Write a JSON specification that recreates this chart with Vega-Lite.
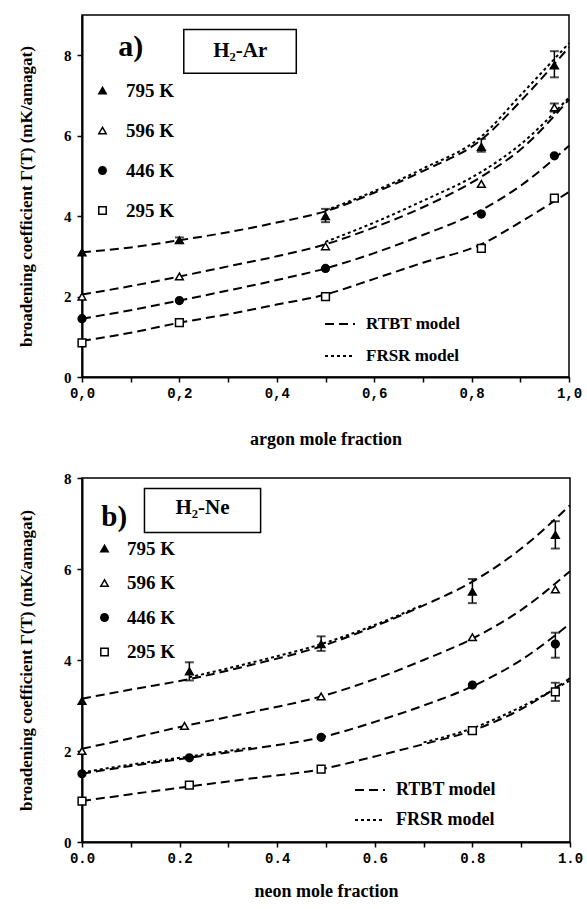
{
  "$schema": "https://vega.github.io/schema/vega-lite/v6.json",
  "background": "white",
  "padding": {"left": 16, "top": 14, "right": 5, "bottom": 5},
  "spacing": 21,
  "datasets": {
    "ptsA": [
      {"x": 0, "y": 3.1, "temp": "795 K"}, {"x": 0.2, "y": 3.4, "temp": "795 K", "lo": 3.33, "hi": 3.47}, {"x": 0.5, "y": 4.0, "temp": "795 K", "lo": 3.85, "hi": 4.18}, {"x": 0.82, "y": 5.72, "temp": "795 K", "lo": 5.6, "hi": 5.92}, {"x": 0.97, "y": 7.75, "temp": "795 K", "lo": 7.45, "hi": 8.1},
      {"x": 0, "y": 2.0, "temp": "596 K"}, {"x": 0.2, "y": 2.5, "temp": "596 K"}, {"x": 0.5, "y": 3.25, "temp": "596 K"}, {"x": 0.82, "y": 4.8, "temp": "596 K"}, {"x": 0.97, "y": 6.7, "temp": "596 K", "lo": 6.6, "hi": 6.8},
      {"x": 0, "y": 1.45, "temp": "446 K"}, {"x": 0.2, "y": 1.9, "temp": "446 K"}, {"x": 0.5, "y": 2.7, "temp": "446 K"}, {"x": 0.82, "y": 4.05, "temp": "446 K"}, {"x": 0.97, "y": 5.5, "temp": "446 K"},
      {"x": 0, "y": 0.85, "temp": "295 K"}, {"x": 0.2, "y": 1.35, "temp": "295 K"}, {"x": 0.5, "y": 2.0, "temp": "295 K"}, {"x": 0.82, "y": 3.2, "temp": "295 K"}, {"x": 0.97, "y": 4.45, "temp": "295 K"}
    ],
    "ptsB": [
      {"x": 0, "y": 3.1, "temp": "795 K"}, {"x": 0.22, "y": 3.75, "temp": "795 K", "lo": 3.55, "hi": 3.95}, {"x": 0.49, "y": 4.35, "temp": "795 K", "lo": 4.2, "hi": 4.52}, {"x": 0.8, "y": 5.5, "temp": "795 K", "lo": 5.25, "hi": 5.78}, {"x": 0.97, "y": 6.75, "temp": "795 K", "lo": 6.45, "hi": 7.05},
      {"x": 0, "y": 2.0, "temp": "596 K"}, {"x": 0.21, "y": 2.55, "temp": "596 K"}, {"x": 0.49, "y": 3.2, "temp": "596 K"}, {"x": 0.8, "y": 4.5, "temp": "596 K"}, {"x": 0.97, "y": 5.55, "temp": "596 K"},
      {"x": 0, "y": 1.5, "temp": "446 K"}, {"x": 0.22, "y": 1.85, "temp": "446 K"}, {"x": 0.49, "y": 2.3, "temp": "446 K"}, {"x": 0.8, "y": 3.45, "temp": "446 K"}, {"x": 0.97, "y": 4.35, "temp": "446 K", "lo": 4.05, "hi": 4.6},
      {"x": 0, "y": 0.9, "temp": "295 K"}, {"x": 0.22, "y": 1.25, "temp": "295 K"}, {"x": 0.49, "y": 1.6, "temp": "295 K"}, {"x": 0.8, "y": 2.45, "temp": "295 K"}, {"x": 0.97, "y": 3.3, "temp": "295 K", "lo": 3.1, "hi": 3.5}
    ],
    "curvesA": [
      {"model": "RTBT model", "temp": "795 K", "x": 0, "y": 3.1}, {"model": "RTBT model", "temp": "795 K", "x": 0.1, "y": 3.22}, {"model": "RTBT model", "temp": "795 K", "x": 0.2, "y": 3.4}, {"model": "RTBT model", "temp": "795 K", "x": 0.3, "y": 3.6}, {"model": "RTBT model", "temp": "795 K", "x": 0.4, "y": 3.84}, {"model": "RTBT model", "temp": "795 K", "x": 0.5, "y": 4.12}, {"model": "RTBT model", "temp": "795 K", "x": 0.6, "y": 4.58}, {"model": "RTBT model", "temp": "795 K", "x": 0.7, "y": 5.12}, {"model": "RTBT model", "temp": "795 K", "x": 0.82, "y": 5.9}, {"model": "RTBT model", "temp": "795 K", "x": 0.9, "y": 6.85}, {"model": "RTBT model", "temp": "795 K", "x": 1.0, "y": 8.2},
      {"model": "FRSR model", "temp": "795 K", "x": 0.5, "y": 4.14}, {"model": "FRSR model", "temp": "795 K", "x": 0.6, "y": 4.62}, {"model": "FRSR model", "temp": "795 K", "x": 0.7, "y": 5.18}, {"model": "FRSR model", "temp": "795 K", "x": 0.82, "y": 5.98}, {"model": "FRSR model", "temp": "795 K", "x": 0.9, "y": 7.0}, {"model": "FRSR model", "temp": "795 K", "x": 1.0, "y": 8.3},
      {"model": "RTBT model", "temp": "596 K", "x": 0, "y": 2.05}, {"model": "RTBT model", "temp": "596 K", "x": 0.1, "y": 2.26}, {"model": "RTBT model", "temp": "596 K", "x": 0.2, "y": 2.5}, {"model": "RTBT model", "temp": "596 K", "x": 0.3, "y": 2.75}, {"model": "RTBT model", "temp": "596 K", "x": 0.4, "y": 3.0}, {"model": "RTBT model", "temp": "596 K", "x": 0.5, "y": 3.3}, {"model": "RTBT model", "temp": "596 K", "x": 0.6, "y": 3.72}, {"model": "RTBT model", "temp": "596 K", "x": 0.7, "y": 4.22}, {"model": "RTBT model", "temp": "596 K", "x": 0.82, "y": 4.98}, {"model": "RTBT model", "temp": "596 K", "x": 0.9, "y": 5.65}, {"model": "RTBT model", "temp": "596 K", "x": 1.0, "y": 6.9},
      {"model": "FRSR model", "temp": "596 K", "x": 0.5, "y": 3.36}, {"model": "FRSR model", "temp": "596 K", "x": 0.6, "y": 3.84}, {"model": "FRSR model", "temp": "596 K", "x": 0.7, "y": 4.38}, {"model": "FRSR model", "temp": "596 K", "x": 0.82, "y": 5.1}, {"model": "FRSR model", "temp": "596 K", "x": 0.9, "y": 5.78}, {"model": "FRSR model", "temp": "596 K", "x": 1.0, "y": 6.95},
      {"model": "RTBT model", "temp": "446 K", "x": 0, "y": 1.45}, {"model": "RTBT model", "temp": "446 K", "x": 0.1, "y": 1.66}, {"model": "RTBT model", "temp": "446 K", "x": 0.2, "y": 1.9}, {"model": "RTBT model", "temp": "446 K", "x": 0.3, "y": 2.15}, {"model": "RTBT model", "temp": "446 K", "x": 0.4, "y": 2.41}, {"model": "RTBT model", "temp": "446 K", "x": 0.5, "y": 2.7}, {"model": "RTBT model", "temp": "446 K", "x": 0.6, "y": 3.08}, {"model": "RTBT model", "temp": "446 K", "x": 0.7, "y": 3.53}, {"model": "RTBT model", "temp": "446 K", "x": 0.82, "y": 4.15}, {"model": "RTBT model", "temp": "446 K", "x": 0.9, "y": 4.75}, {"model": "RTBT model", "temp": "446 K", "x": 1.0, "y": 5.75},
      {"model": "RTBT model", "temp": "295 K", "x": 0, "y": 0.9}, {"model": "RTBT model", "temp": "295 K", "x": 0.1, "y": 1.1}, {"model": "RTBT model", "temp": "295 K", "x": 0.2, "y": 1.35}, {"model": "RTBT model", "temp": "295 K", "x": 0.3, "y": 1.56}, {"model": "RTBT model", "temp": "295 K", "x": 0.4, "y": 1.8}, {"model": "RTBT model", "temp": "295 K", "x": 0.5, "y": 2.05}, {"model": "RTBT model", "temp": "295 K", "x": 0.6, "y": 2.44}, {"model": "RTBT model", "temp": "295 K", "x": 0.7, "y": 2.84}, {"model": "RTBT model", "temp": "295 K", "x": 0.82, "y": 3.3}, {"model": "RTBT model", "temp": "295 K", "x": 0.9, "y": 3.85}, {"model": "RTBT model", "temp": "295 K", "x": 1.0, "y": 4.6}
    ],
    "curvesB": [
      {"model": "RTBT model", "temp": "795 K", "x": 0, "y": 3.15}, {"model": "RTBT model", "temp": "795 K", "x": 0.1, "y": 3.35}, {"model": "RTBT model", "temp": "795 K", "x": 0.22, "y": 3.58}, {"model": "RTBT model", "temp": "795 K", "x": 0.35, "y": 3.9}, {"model": "RTBT model", "temp": "795 K", "x": 0.49, "y": 4.3}, {"model": "RTBT model", "temp": "795 K", "x": 0.6, "y": 4.74}, {"model": "RTBT model", "temp": "795 K", "x": 0.7, "y": 5.2}, {"model": "RTBT model", "temp": "795 K", "x": 0.8, "y": 5.72}, {"model": "RTBT model", "temp": "795 K", "x": 0.9, "y": 6.45}, {"model": "RTBT model", "temp": "795 K", "x": 1.0, "y": 7.4},
      {"model": "FRSR model", "temp": "795 K", "x": 0.22, "y": 3.62}, {"model": "FRSR model", "temp": "795 K", "x": 0.35, "y": 3.95}, {"model": "FRSR model", "temp": "795 K", "x": 0.49, "y": 4.35}, {"model": "FRSR model", "temp": "795 K", "x": 0.6, "y": 4.77}, {"model": "FRSR model", "temp": "795 K", "x": 0.7, "y": 5.22},
      {"model": "RTBT model", "temp": "596 K", "x": 0, "y": 2.05}, {"model": "RTBT model", "temp": "596 K", "x": 0.1, "y": 2.28}, {"model": "RTBT model", "temp": "596 K", "x": 0.21, "y": 2.55}, {"model": "RTBT model", "temp": "596 K", "x": 0.35, "y": 2.86}, {"model": "RTBT model", "temp": "596 K", "x": 0.49, "y": 3.2}, {"model": "RTBT model", "temp": "596 K", "x": 0.6, "y": 3.58}, {"model": "RTBT model", "temp": "596 K", "x": 0.7, "y": 4.0}, {"model": "RTBT model", "temp": "596 K", "x": 0.8, "y": 4.47}, {"model": "RTBT model", "temp": "596 K", "x": 0.9, "y": 5.1}, {"model": "RTBT model", "temp": "596 K", "x": 1.0, "y": 5.95},
      {"model": "RTBT model", "temp": "446 K", "x": 0, "y": 1.5}, {"model": "RTBT model", "temp": "446 K", "x": 0.1, "y": 1.67}, {"model": "RTBT model", "temp": "446 K", "x": 0.22, "y": 1.85}, {"model": "RTBT model", "temp": "446 K", "x": 0.35, "y": 2.05}, {"model": "RTBT model", "temp": "446 K", "x": 0.49, "y": 2.3}, {"model": "RTBT model", "temp": "446 K", "x": 0.6, "y": 2.64}, {"model": "RTBT model", "temp": "446 K", "x": 0.7, "y": 3.0}, {"model": "RTBT model", "temp": "446 K", "x": 0.8, "y": 3.42}, {"model": "RTBT model", "temp": "446 K", "x": 0.9, "y": 4.0}, {"model": "RTBT model", "temp": "446 K", "x": 1.0, "y": 4.8},
      {"model": "FRSR model", "temp": "446 K", "x": 0, "y": 1.53}, {"model": "FRSR model", "temp": "446 K", "x": 0.1, "y": 1.7}, {"model": "FRSR model", "temp": "446 K", "x": 0.22, "y": 1.88}, {"model": "FRSR model", "temp": "446 K", "x": 0.35, "y": 2.08},
      {"model": "RTBT model", "temp": "295 K", "x": 0, "y": 0.9}, {"model": "RTBT model", "temp": "295 K", "x": 0.1, "y": 1.05}, {"model": "RTBT model", "temp": "295 K", "x": 0.22, "y": 1.22}, {"model": "RTBT model", "temp": "295 K", "x": 0.35, "y": 1.4}, {"model": "RTBT model", "temp": "295 K", "x": 0.49, "y": 1.6}, {"model": "RTBT model", "temp": "295 K", "x": 0.6, "y": 1.88}, {"model": "RTBT model", "temp": "295 K", "x": 0.7, "y": 2.15}, {"model": "RTBT model", "temp": "295 K", "x": 0.8, "y": 2.45}, {"model": "RTBT model", "temp": "295 K", "x": 0.9, "y": 2.92}, {"model": "RTBT model", "temp": "295 K", "x": 1.0, "y": 3.6},
      {"model": "FRSR model", "temp": "295 K", "x": 0.7, "y": 2.19}, {"model": "FRSR model", "temp": "295 K", "x": 0.8, "y": 2.5}, {"model": "FRSR model", "temp": "295 K", "x": 0.9, "y": 2.97}, {"model": "FRSR model", "temp": "295 K", "x": 1.0, "y": 3.55}
    ],
    "annA": [
      {"label": "a)", "x": 0.1, "y": 8.2, "kind": "tag"},
      {"label": "H₂-Ar", "x": 0.325, "y": 8.1, "kind": "box", "x1": 0.209, "x2": 0.44, "y1": 7.55, "y2": 8.64}
    ],
    "annB": [
      {"label": "b)", "x": 0.066, "y": 7.15, "kind": "tag"},
      {"label": "H₂-Ne", "x": 0.247, "y": 7.33, "kind": "box", "x1": 0.128, "x2": 0.366, "y1": 6.8, "y2": 7.77}
    ]
  },
  "vconcat": [
    {
      "width": 487,
      "height": 362,
      "layer": [
        {
          "data": {"name": "annA"},
          "transform": [{"filter": "datum.kind == 'box'"}],
          "mark": {"type": "rect", "fill": "white", "stroke": "black", "strokeWidth": 1.5},
          "encoding": {"x": {"field": "x1", "type": "quantitative"}, "x2": {"field": "x2"}, "y": {"field": "y1", "type": "quantitative"}, "y2": {"field": "y2"}}
        },
        {
          "data": {"name": "annA"},
          "transform": [{"filter": "datum.kind == 'box'"}],
          "mark": {"type": "text", "font": "Liberation Serif", "fontWeight": "bold", "fontSize": 21, "color": "black"},
          "encoding": {"x": {"field": "x", "type": "quantitative"}, "y": {"field": "y", "type": "quantitative"}, "text": {"field": "label"}}
        },
        {
          "data": {"name": "annA"},
          "transform": [{"filter": "datum.kind == 'tag'"}],
          "mark": {"type": "text", "font": "Liberation Serif", "fontWeight": "bold", "fontSize": 30, "color": "black"},
          "encoding": {"x": {"field": "x", "type": "quantitative"}, "y": {"field": "y", "type": "quantitative"}, "text": {"field": "label"}}
        },
        {
          "data": {"name": "curvesA"},
          "mark": {"type": "line", "color": "black", "strokeWidth": 2, "interpolate": "monotone"},
          "encoding": {
            "x": {"field": "x", "type": "quantitative", "scale": {"domain": [0, 1], "nice": false},
              "axis": {"values": [0, 0.1, 0.2, 0.3, 0.4, 0.5, 0.6, 0.7, 0.8, 0.9, 1.0], "labelExpr": "round(datum.value*10)%2==0 ? replace(format(datum.value,'.1f'),'.',',') : ''", "title": "argon mole fraction", "titlePadding": 30}},
            "y": {"field": "y", "type": "quantitative", "scale": {"domain": [0, 9], "nice": false},
              "axis": {"values": [0, 2, 4, 6, 8], "title": "broadening coefficient Γ(T) (mK/amagat)"}},
            "detail": {"field": "temp"},
            "strokeDash": {"field": "model", "type": "nominal",
              "scale": {"domain": ["RTBT model", "FRSR model"], "range": [[9, 5], [3, 3]]},
              "legend": {"orient": "none", "legendX": 242, "legendY": 293, "title": null, "symbolType": "stroke", "symbolSize": 900, "symbolStrokeWidth": 2, "symbolStrokeColor": "black", "labelFont": "Liberation Serif", "labelFontWeight": "bold", "labelFontSize": 17, "rowPadding": 8, "labelOffset": 10}}
          }
        },
        {
          "data": {"name": "ptsA"},
          "transform": [{"filter": "isValid(datum.lo)"}],
          "mark": {"type": "rule", "color": "black", "strokeWidth": 1.5},
          "encoding": {"x": {"field": "x", "type": "quantitative"}, "y": {"field": "lo", "type": "quantitative"}, "y2": {"field": "hi"}}
        },
        {
          "data": {"name": "ptsA"},
          "transform": [{"filter": "isValid(datum.lo)"}, {"fold": ["lo", "hi"], "as": ["end", "yy"]}],
          "mark": {"type": "tick", "color": "black", "orient": "horizontal", "size": 9, "thickness": 2},
          "encoding": {"x": {"field": "x", "type": "quantitative"}, "y": {"field": "yy", "type": "quantitative"}}
        },
        {
          "data": {"name": "ptsA"},
          "mark": {"type": "point", "filled": true, "strokeWidth": 1.5, "opacity": 1, "size": 60},
          "encoding": {
            "x": {"field": "x", "type": "quantitative"},
            "y": {"field": "y", "type": "quantitative"},
            "shape": {"field": "temp", "type": "nominal", "scale": {"domain": ["795 K", "596 K", "446 K", "295 K"], "range": ["triangle-up", "triangle-up", "circle", "square"]},
              "legend": {"orient": "none", "legendX": 11, "legendY": 66, "title": null, "labelFont": "Liberation Serif", "labelFontWeight": "bold", "labelFontSize": 19, "rowPadding": 20, "labelOffset": 14, "symbolSize": 55, "symbolStrokeWidth": 1.5}},
            "fill": {"field": "temp", "type": "nominal", "scale": {"domain": ["795 K", "596 K", "446 K", "295 K"], "range": ["black", "white", "black", "white"]},
              "legend": {"orient": "none", "legendX": 11, "legendY": 66, "title": null, "labelFont": "Liberation Serif", "labelFontWeight": "bold", "labelFontSize": 19, "rowPadding": 20, "labelOffset": 14, "symbolSize": 55, "symbolStrokeWidth": 1.5}},
            "stroke": {"field": "temp", "type": "nominal", "scale": {"domain": ["795 K", "596 K", "446 K", "295 K"], "range": ["black", "black", "black", "black"]},
              "legend": {"orient": "none", "legendX": 11, "legendY": 66, "title": null, "labelFont": "Liberation Serif", "labelFontWeight": "bold", "labelFontSize": 19, "rowPadding": 20, "labelOffset": 14, "symbolSize": 55, "symbolStrokeWidth": 1.5}}
          }
        }
      ]
    },
    {
      "width": 488,
      "height": 364,
      "layer": [
        {
          "data": {"name": "annB"},
          "transform": [{"filter": "datum.kind == 'box'"}],
          "mark": {"type": "rect", "fill": "white", "stroke": "black", "strokeWidth": 1.5},
          "encoding": {"x": {"field": "x1", "type": "quantitative"}, "x2": {"field": "x2"}, "y": {"field": "y1", "type": "quantitative"}, "y2": {"field": "y2"}}
        },
        {
          "data": {"name": "annB"},
          "transform": [{"filter": "datum.kind == 'box'"}],
          "mark": {"type": "text", "font": "Liberation Serif", "fontWeight": "bold", "fontSize": 21, "color": "black"},
          "encoding": {"x": {"field": "x", "type": "quantitative"}, "y": {"field": "y", "type": "quantitative"}, "text": {"field": "label"}}
        },
        {
          "data": {"name": "annB"},
          "transform": [{"filter": "datum.kind == 'tag'"}],
          "mark": {"type": "text", "font": "Liberation Serif", "fontWeight": "bold", "fontSize": 29, "color": "black"},
          "encoding": {"x": {"field": "x", "type": "quantitative"}, "y": {"field": "y", "type": "quantitative"}, "text": {"field": "label"}}
        },
        {
          "data": {"name": "curvesB"},
          "mark": {"type": "line", "color": "black", "strokeWidth": 2, "interpolate": "monotone"},
          "encoding": {
            "x": {"field": "x", "type": "quantitative", "scale": {"domain": [0, 1], "nice": false},
              "axis": {"values": [0, 0.1, 0.2, 0.3, 0.4, 0.5, 0.6, 0.7, 0.8, 0.9, 1.0], "labelExpr": "round(datum.value*10)%2==0 ? format(datum.value,'.1f') : ''", "title": "neon mole fraction", "titlePadding": 17}},
            "y": {"field": "y", "type": "quantitative", "scale": {"domain": [0, 8], "nice": false},
              "axis": {"values": [0, 2, 4, 6, 8], "title": "broadening coefficient Γ(T) (mK/amagat)"}},
            "detail": {"field": "temp"},
            "strokeDash": {"field": "model", "type": "nominal",
              "scale": {"domain": ["RTBT model", "FRSR model"], "range": [[9, 5], [3, 3]]},
              "legend": {"orient": "none", "legendX": 272, "legendY": 296, "title": null, "symbolType": "stroke", "symbolSize": 900, "symbolStrokeWidth": 2, "symbolStrokeColor": "black", "labelFont": "Liberation Serif", "labelFontWeight": "bold", "labelFontSize": 18, "rowPadding": 5, "labelOffset": 10}}
          }
        },
        {
          "data": {"name": "ptsB"},
          "transform": [{"filter": "isValid(datum.lo)"}],
          "mark": {"type": "rule", "color": "black", "strokeWidth": 1.5},
          "encoding": {"x": {"field": "x", "type": "quantitative"}, "y": {"field": "lo", "type": "quantitative"}, "y2": {"field": "hi"}}
        },
        {
          "data": {"name": "ptsB"},
          "transform": [{"filter": "isValid(datum.lo)"}, {"fold": ["lo", "hi"], "as": ["end", "yy"]}],
          "mark": {"type": "tick", "color": "black", "orient": "horizontal", "size": 9, "thickness": 2},
          "encoding": {"x": {"field": "x", "type": "quantitative"}, "y": {"field": "yy", "type": "quantitative"}}
        },
        {
          "data": {"name": "ptsB"},
          "mark": {"type": "point", "filled": true, "strokeWidth": 1.5, "opacity": 1, "size": 60},
          "encoding": {
            "x": {"field": "x", "type": "quantitative"},
            "y": {"field": "y", "type": "quantitative"},
            "shape": {"field": "temp", "type": "nominal", "scale": {"domain": ["795 K", "596 K", "446 K", "295 K"], "range": ["triangle-up", "triangle-up", "circle", "square"]},
              "legend": {"orient": "none", "legendX": 13, "legendY": 61, "title": null, "labelFont": "Liberation Serif", "labelFontWeight": "bold", "labelFontSize": 19, "rowPadding": 14.5, "labelOffset": 13, "symbolSize": 55, "symbolStrokeWidth": 1.5}},
            "fill": {"field": "temp", "type": "nominal", "scale": {"domain": ["795 K", "596 K", "446 K", "295 K"], "range": ["black", "white", "black", "white"]},
              "legend": {"orient": "none", "legendX": 13, "legendY": 61, "title": null, "labelFont": "Liberation Serif", "labelFontWeight": "bold", "labelFontSize": 19, "rowPadding": 14.5, "labelOffset": 13, "symbolSize": 55, "symbolStrokeWidth": 1.5}},
            "stroke": {"field": "temp", "type": "nominal", "scale": {"domain": ["795 K", "596 K", "446 K", "295 K"], "range": ["black", "black", "black", "black"]},
              "legend": {"orient": "none", "legendX": 13, "legendY": 61, "title": null, "labelFont": "Liberation Serif", "labelFontWeight": "bold", "labelFontSize": 19, "rowPadding": 14.5, "labelOffset": 13, "symbolSize": 55, "symbolStrokeWidth": 1.5}}
          }
        }
      ]
    }
  ],
  "resolve": {
    "scale": {"x": "independent", "y": "independent", "shape": "independent", "fill": "independent", "stroke": "independent", "strokeDash": "independent"},
    "legend": {"shape": "independent", "fill": "independent", "stroke": "independent", "strokeDash": "independent"}
  },
  "config": {
    "view": {"stroke": "black", "strokeWidth": 1.5},
    "axis": {
      "grid": false,
      "domainColor": "black", "domainWidth": 2,
      "tickColor": "black", "tickWidth": 1.5, "tickSize": 5,
      "labelColor": "black", "labelFontWeight": "bold",
      "titleColor": "black", "titleFont": "Liberation Serif", "titleFontWeight": "bold", "titleFontSize": 18
    },
    "axisX": {"labelFont": "Liberation Mono", "labelFontSize": 14, "labelPadding": 4, "labelFlush": false},
    "axisY": {"labelFont": "Liberation Serif", "labelFontSize": 15, "labelPadding": 6, "titleFontSize": 17, "titlePadding": 28},
    "legend": {"padding": 0}
  }
}
